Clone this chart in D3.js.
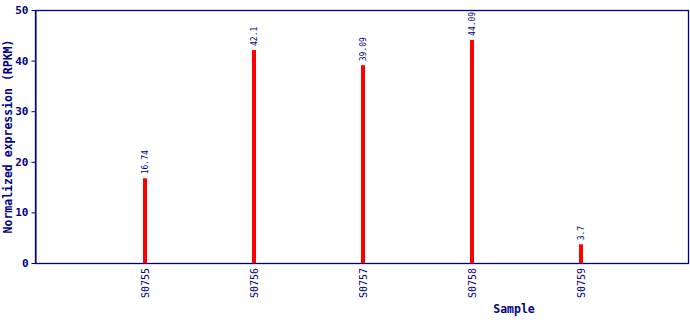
<!DOCTYPE html>
<html>
<head>
<meta charset="utf-8">
<script src="https://cdn.jsdelivr.net/npm/d3@7"></script>
<style>
  html, body { margin: 0; padding: 0; background: #fff; }
  svg { display: block; }
  text { font-family: "DejaVu Sans Mono", monospace; fill: #000080; }
</style>
</head>
<body>
<svg id="chart" width="690" height="320"></svg>
<script>
// Data
const samples = ['S0755', 'S0756', 'S0757', 'S0758', 'S0759'];
const values = [16.74, 42.1, 39.09, 44.09, 3.7];
const valueLabels = ['16.74', '42.1', '39.09', '44.09', '3.7'];
const yTicks = [0, 10, 20, 30, 40, 50];

const navy = '#000080';
const m = { top: 10, right: 1, bottom: 57, left: 35 };
const w = 690, h = 320;
const innerW = w - m.left - m.right;
const innerH = h - m.top - m.bottom;

const svg = d3.select('#chart');
const root = svg.append('g').attr('transform', `translate(${m.left},${m.top})`);

const x = d3.scalePoint().domain(samples).range([0, innerW]).padding(1);
const y = d3.scaleLinear().domain([0, 50]).range([innerH, 0]);

// Plot frame
root.append('rect')
  .attr('x', 0.5).attr('y', 0.5)
  .attr('width', innerW - 1).attr('height', innerH)
  .attr('fill', 'none').attr('stroke', navy).attr('stroke-width', 1.3);

// Y axis
const yAxis = root.append('g')
  .attr('transform', 'translate(0.5,0)')
  .call(d3.axisLeft(y).tickValues(yTicks).tickSize(4).tickSizeOuter(0).tickPadding(3));
yAxis.select('.domain').attr('stroke', navy);
yAxis.selectAll('.tick line').attr('stroke', navy);
yAxis.selectAll('.tick text')
  .attr('fill', navy)
  .attr('font-family', '"DejaVu Sans Mono", monospace')
  .attr('font-weight', 'bold')
  .attr('font-size', 11);

// X axis (labels only, rotated)
const xAxis = root.append('g')
  .attr('transform', `translate(0,${innerH})`)
  .call(d3.axisBottom(x).tickSize(0).tickPadding(0));
xAxis.select('.domain').remove();
xAxis.selectAll('.tick text')
  .attr('fill', navy)
  .attr('font-family', '"DejaVu Sans Mono", monospace')
  .attr('font-size', 10)
  .attr('text-anchor', 'end')
  .attr('dy', null)
  .attr('transform', 'rotate(-90)')
  .attr('x', -5)
  .attr('y', 4.5);

// Bars
root.selectAll('rect.bar').data(values).enter().append('rect')
  .attr('class', 'bar')
  .attr('x', (d, i) => x(samples[i]) - 1)
  .attr('width', 4)
  .attr('y', (d) => y(d))
  .attr('height', (d) => innerH - y(d))
  .attr('fill', '#ff0000');

// Value labels
root.selectAll('text.val').data(values).enter().append('text')
  .attr('class', 'val')
  .attr('font-size', 8)
  .attr('transform', (d, i) => `translate(${x(samples[i]) + 4},${y(d) - 4}) rotate(-90)`)
  .text((d, i) => valueLabels[i]);

// Axis titles
svg.append('text')
  .attr('transform', `translate(12,${m.top + innerH / 2}) rotate(-90)`)
  .attr('text-anchor', 'middle')
  .attr('font-weight', 'bold')
  .attr('font-size', 11.5)
  .text('Normalized expression (RPKM)');

svg.append('text')
  .attr('x', 514).attr('y', 313)
  .attr('text-anchor', 'middle')
  .attr('font-weight', 'bold')
  .attr('font-size', 11.5)
  .text('Sample');
</script>
</body>
</html>
